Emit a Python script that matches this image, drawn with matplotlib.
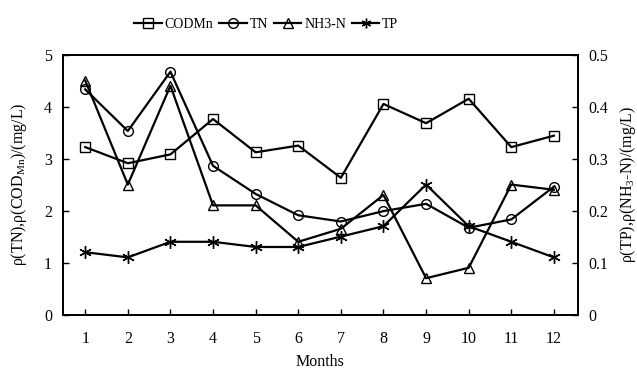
import matplotlib
matplotlib.use("Agg")
import matplotlib.pyplot as plt
from matplotlib.lines import Line2D

plt.rcParams['font.family'] = ['Liberation Serif', 'DejaVu Serif']
plt.rcParams['mathtext.fontset'] = 'custom'
plt.rcParams['mathtext.rm'] = 'Liberation Serif'
plt.rcParams['mathtext.it'] = 'Liberation Serif'

months = list(range(1, 13))
codmn = [3.22, 2.91, 3.08, 3.76, 3.12, 3.25, 2.63, 4.05, 3.68, 4.15, 3.22, 3.44]
tn = [4.33, 3.53, 4.67, 2.86, 2.32, 1.91, 1.79, 1.99, 2.13, 1.67, 1.83, 2.46]
nh3n = [0.45, 0.25, 0.44, 0.21, 0.21, 0.14, 0.165, 0.23, 0.07, 0.09, 0.25, 0.24]
tp = [0.12, 0.11, 0.14, 0.14, 0.13, 0.13, 0.15, 0.17, 0.25, 0.17, 0.14, 0.11]
labels = ['CODMn', 'TN', 'NH3-N', 'TP']

LINE = dict(color='black', linewidth=1.6, markersize=7,
            markerfacecolor='none', markeredgecolor='black', markeredgewidth=1.0)
STAR = (6, 2, 0)

fig = plt.figure(figsize=(6.37, 3.71), dpi=100)
ax = fig.add_axes([0.099, 0.152, 0.808, 0.701])
ax2 = ax.twinx()

ax.plot(months, codmn, marker='s', **LINE)
ax.plot(months, tn, marker='o', **LINE)
ax2.plot(months, nh3n, marker='^', **LINE)
ax2.plot(months, tp, marker=STAR, **{**LINE, 'markersize': 9})

ax.set_xlim(0.48, 12.56)
ax.set_ylim(0, 5)
ax2.set_ylim(0, 0.5)
ax.set_xticks(months)
ax.set_yticks([0, 1, 2, 3, 4, 5])
ax2.set_yticks([0, 0.1, 0.2, 0.3, 0.4, 0.5])
ax2.set_yticklabels(['0', '0.1', '0.2', '0.3', '0.4', '0.5'])

for a in (ax, ax2):
    a.tick_params(direction='in', labelsize=11.5, length=4, width=1, pad=8)
    for s in a.spines.values():
        s.set_linewidth(1.3)
ax.tick_params(axis='x', pad=12)

ax.set_xlabel('Months', fontsize=11.5, labelpad=5)
ax.set_ylabel(r'ρ(TN),ρ(COD$_{\mathrm{Mn}}$)/(mg/L)', fontsize=11.5, labelpad=11)
ax2.set_ylabel(r'ρ(TP),ρ(NH$_{3}$-N)/(mg/L)', fontsize=11.5, labelpad=7)

markers = ['s', 'o', '^', STAR]
handles = [Line2D([], [], marker=m, **LINE) for m in markers]
fig.legend(handles, labels, loc='upper center', bbox_to_anchor=(0.418, 0.985),
           ncol=4, frameon=False, fontsize=10, handlelength=2.0,
           handletextpad=0.2, columnspacing=0.4)

fig.savefig('out.png', dpi=100)
